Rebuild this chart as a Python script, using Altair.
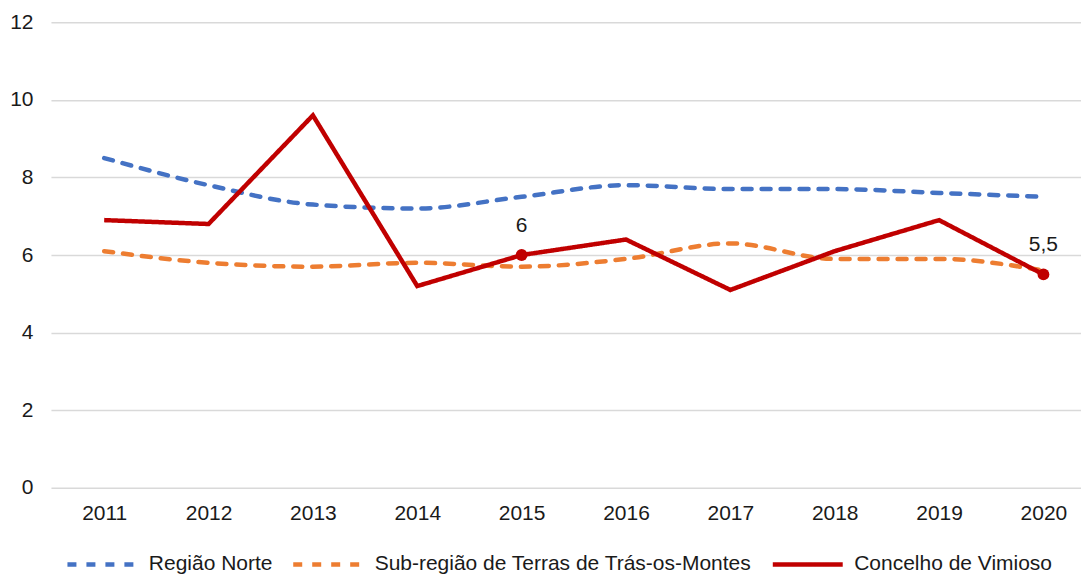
import altair as alt
import pandas as pd

years = [2011, 2012, 2013, 2014, 2015, 2016, 2017, 2018, 2019, 2020]
norte = [8.5, 7.8, 7.3, 7.2, 7.5, 7.8, 7.7, 7.7, 7.6, 7.5]
terras = [6.1, 5.8, 5.7, 5.8, 5.7, 5.9, 6.3, 5.9, 5.9, 5.6]
vimioso = [6.9, 6.8, 9.6, 5.2, 6.0, 6.4, 5.1, 6.1, 6.9, 5.5]
series_names = ["Região Norte", "Sub-região de Terras de Trás-os-Montes", "Concelho de Vimioso"]
series_colors = ["#4472C4", "#ED7D31", "#C00000"]
label_years = [2015, 2020]
label_values = [6.0, 5.5]
label_texts = ["6", "5,5"]

rows = []
for name, vals in zip(series_names, [norte, terras, vimioso]):
    for y, v in zip(years, vals):
        rows.append({"year": y, "value": v, "series": name})
df = pd.DataFrame(rows)
lab = pd.DataFrame({"year": label_years, "value": label_values, "text": label_texts})

FONT = "Liberation Sans"
FS = 21

x = alt.X("year:Q", scale=alt.Scale(domain=[2010.49, 2020.36], nice=False, zero=False),
          axis=alt.Axis(values=years, format="d", title=None, grid=False, domain=False,
                        ticks=False, labelPadding=15, labelFontSize=FS, labelFont=FONT,
                        labelColor="#1a1a1a"))
y = alt.Y("value:Q", scale=alt.Scale(domain=[0, 12], nice=False),
          axis=alt.Axis(values=[0, 2, 4, 6, 8, 10, 12], title=None, domain=False, ticks=False,
                        labelPadding=18, labelFontSize=FS, labelFont=FONT, labelColor="#1a1a1a",
                        gridColor="#D9D9D9", gridWidth=1.5))
color = alt.Color("series:N", scale=alt.Scale(domain=series_names, range=series_colors),
                  sort=series_names,
                  legend=alt.Legend(title=None, orient="none", legendX=14, legendY=505,
                                    direction="horizontal",
                                    symbolType="stroke", symbolSize=4900, symbolStrokeWidth=4.5,
                                    labelFontSize=FS, labelFont=FONT, labelColor="#1a1a1a",
                                    labelLimit=0, columnPadding=11, labelOffset=9))
dash = alt.StrokeDash("series:N", scale=alt.Scale(domain=series_names, range=[[9, 10], [9, 10], [1, 0]]),
                      sort=series_names, legend=alt.Legend(title=None))

base = alt.Chart(df)
dashed = base.transform_filter(alt.datum.series != "Concelho de Vimioso").mark_line(
    strokeWidth=4.5, strokeCap="round", interpolate="monotone").encode(x=x, y=y, color=color, strokeDash=dash)
solid = base.transform_filter(alt.datum.series == "Concelho de Vimioso").mark_line(
    strokeWidth=4.5).encode(x=x, y=y, color=color, strokeDash=dash)
pts = alt.Chart(lab).mark_circle(size=140, color="#C00000", opacity=1).encode(x="year:Q", y="value:Q")
txt = alt.Chart(lab).mark_text(dy=-29, fontSize=FS, font=FONT, color="#1a1a1a").encode(
    x="year:Q", y="value:Q", text="text:N")

chart = alt.layer(dashed, solid, pts, txt).properties(
    width=1031, height=466,
    padding={"left": 1, "top": 3, "right": 0, "bottom": 0},
).configure_view(stroke=None)

chart.save("out.html", embed_options={"renderer": "svg", "actions": False})
